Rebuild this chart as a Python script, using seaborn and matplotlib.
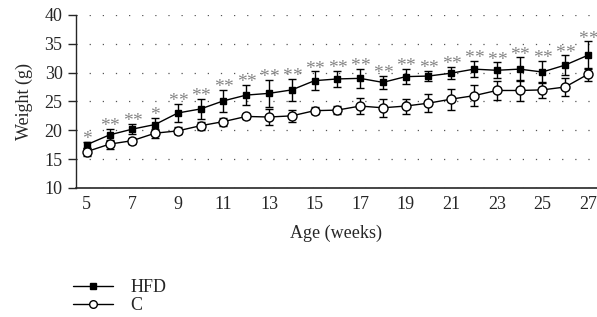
import matplotlib
matplotlib.use("Agg")
import matplotlib.pyplot as plt
import seaborn as sns
import numpy as np
import pandas as pd

weeks = list(range(5, 28))

hfd_mean = [17.5, 19.2, 20.2, 21.0, 23.0, 23.7, 25.1, 26.1, 26.4, 27.0, 28.6, 28.9,
            29.0, 28.3, 29.3, 29.4, 29.9, 30.6, 30.4, 30.6, 30.1, 31.3, 33.0]
hfd_sd = [0.5, 1.0, 0.9, 1.1, 1.6, 1.7, 1.9, 1.8, 2.4, 1.9, 1.6, 1.35,
          1.6, 1.15, 1.35, 0.85, 1.05, 1.4, 1.4, 2.05, 1.95, 1.7, 2.4]

c_mean = [16.3, 17.6, 18.2, 19.5, 19.9, 20.8, 21.5, 22.4, 22.3, 22.5, 23.4, 23.5,
          24.2, 23.9, 24.2, 24.7, 25.4, 26.0, 26.9, 26.9, 27.0, 27.5, 29.7]
c_sd = [0.7, 0.8, 0.5, 0.8, 0.6, 0.7, 0.7, 0.5, 1.4, 1.0, 0.6, 0.7,
        1.45, 1.6, 1.3, 1.6, 1.8, 1.85, 1.65, 1.9, 1.35, 1.5, 1.15]

stars = ["*", "**", "**", "*", "**", "**", "**", "**", "**", "**", "**", "**",
         "**", "**", "**", "**", "**", "**", "**", "**", "**", "**", "**"]

df = pd.DataFrame({
    "Age": weeks * 2,
    "Weight": hfd_mean + c_mean,
    "sd": hfd_sd + c_sd,
    "group": ["HFD"] * len(weeks) + ["C"] * len(weeks),
})

sns.set_style("ticks")
plt.rcParams["font.family"] = ["Liberation Serif", "DejaVu Serif"]
fs = 13

fig = plt.figure(figsize=(5.97, 3.17), dpi=100)
ax = fig.add_axes([0.127, 0.407, 0.873, 0.546])

ax.yaxis.grid(True, linestyle=(0, (1, 9.5)), color="#555555", linewidth=0.9)
ax.set_axisbelow(True)

for grp, sub in df.groupby("group", sort=False):
    ax.errorbar(sub["Age"], sub["Weight"], yerr=sub["sd"], fmt="none",
                ecolor="black", elinewidth=1.0, capsize=3, capthick=1.0, zorder=2)

sns.lineplot(data=df, x="Age", y="Weight", hue="group", style="group",
             markers={"HFD": "s", "C": "o"}, dashes=False,
             palette={"HFD": "black", "C": "black"}, ax=ax, legend=False,
             linewidth=1.0, markersize=6.5, markeredgecolor="black",
             markeredgewidth=1.0, zorder=3)
# open circles for the control group
for line in ax.lines:
    if line.get_marker() == "o":
        line.set_markerfacecolor("white")
    elif line.get_marker() == "s":
        line.set_markersize(5.0)

# significance stars, spread a few points apart
for w, m, s, st in zip(weeks, hfd_mean, hfd_sd, stars):
    n = len(st)
    offs = [0] if n == 1 else [-3.4, 3.4]
    for dx in offs:
        ax.annotate("*", (w, m + s - 0.4), xytext=(dx, 0), textcoords="offset points",
                    ha="center", va="baseline", color="#858585", fontsize=14)

ax.set_xlim(4.52, 27.4)
ax.set_ylim(10, 40)
ax.set_xticks(range(5, 28, 2))
ax.set_yticks(range(10, 41, 5))
ax.tick_params(axis="x", length=0, pad=6, labelsize=fs)
ax.tick_params(axis="y", length=5.5, width=1, direction="out", pad=4, labelsize=fs)
ax.set_xlabel("Age (weeks)", fontsize=fs, labelpad=8)
ax.set_ylabel("Weight (g)", fontsize=fs, labelpad=8)
sns.despine(ax=ax)
ax.spines["left"].set_linewidth(1.0)
ax.spines["bottom"].set_linewidth(1.2)

h1 = plt.Line2D([], [], color="black", marker="s", markersize=4.5, linewidth=1.0)
h2 = plt.Line2D([], [], color="black", marker="o", markersize=5.5, markerfacecolor="white",
                linewidth=1.0)
fig.legend([h1, h2], ["HFD", "C"], loc="upper left", bbox_to_anchor=(0.122, 0.12),
           frameon=False, handlelength=2.2, handletextpad=1.0, labelspacing=0.05,
           borderaxespad=0, borderpad=0, fontsize=fs)

fig.savefig("out.png", dpi=100)
